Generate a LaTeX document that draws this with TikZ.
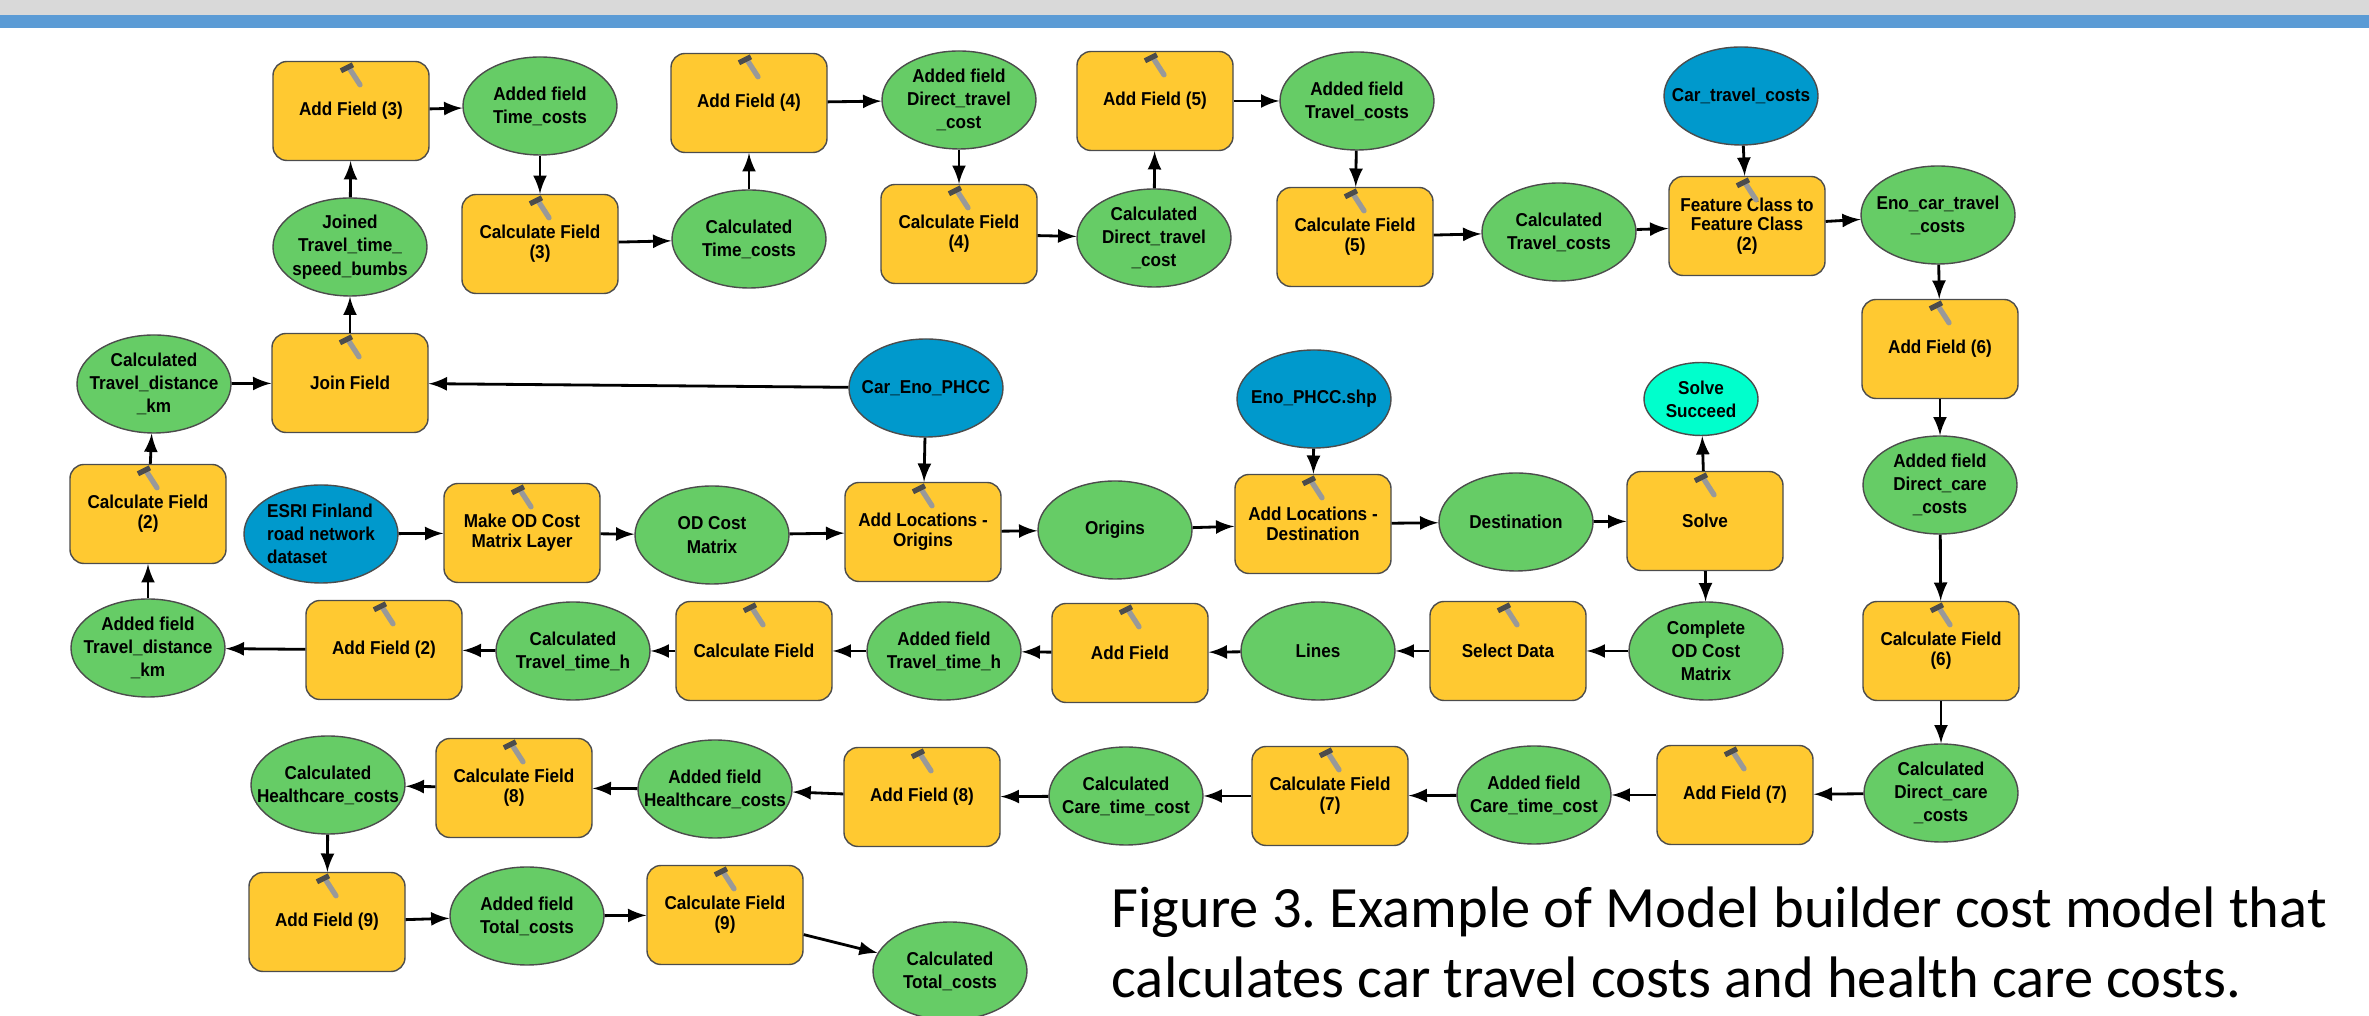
\documentclass[tikz,border=0pt]{standalone}
\usepackage{fontspec}
\usetikzlibrary{shapes.geometric}
\frenchspacing
\setmainfont[FakeStretch=.92]{Liberation Sans}
\newfontfamily\captionfont{Carlito}
\definecolor{toolyellow}{HTML}{FFC931}
\definecolor{datagreen}{HTML}{66CC66}
\definecolor{inputblue}{HTML}{0099CC}
\definecolor{flagcyan}{HTML}{00FFCC}
\definecolor{bandgray}{HTML}{D9D9D9}
\definecolor{bandblue}{HTML}{5B9BD5}
\begin{document}
\begin{tikzpicture}[>=latex]
\tikzset{
  tool/.style={draw=black!70,fill=toolyellow,shape=rectangle,rounded corners=.14cm,minimum width=1.56cm,minimum height=.99cm,
    inner sep=0pt,align=center,font=\fontsize{5.3}{5.6}\selectfont\bfseries,
    append after command={
      ([shift={(-.02,-.07)}]\tikzlastnode.north) edge[draw=black!40,line width=1.5pt,line cap=round] ([shift={(.09,-.24)}]\tikzlastnode.north)
      ([shift={(-.10,-.10)}]\tikzlastnode.north) edge[draw=black!70,line width=1.5pt] ([shift={(.02,-.04)}]\tikzlastnode.north)
    }},
  data/.style={draw=black!70,fill=datagreen,shape=ellipse,minimum width=1.54cm,minimum height=.98cm,
    inner xsep=-.25cm,inner ysep=-.02cm,align=center,font=\fontsize{5.3}{6.6}\selectfont\bfseries},
  input/.style={data,fill=inputblue},
  flag/.style={data,fill=flagcyan,minimum width=1.14cm,minimum height=.73cm},
  flow/.style={->,line width=.8pt}
}
\useasboundingbox (0,0) rectangle (23.69,10.16);
\fill[bandgray] (0,10.01) rectangle (23.69,10.16);
\fill[bandblue] (0,9.88) rectangle (23.69,10.01);
% upper rows
\node[tool] (addthree) at (3.51,9.05) {Add Field (3)};
\node[data] (timeadded) at (5.40,9.10) {Added field\\Time\_costs};
\node[tool] (calcthree) at (5.40,7.72) {Calculate Field\\(3)};
\node[data] (joined) at (3.50,7.69) {Joined\\Travel\_time\_\\speed\_bumbs};
\node[tool] (join) at (3.50,6.33) {Join Field};
\node[data] (distcalc) at (1.54,6.32) {Calculated\\Travel\_distance\\\_km};
\node[data] (timecalc) at (7.49,7.77) {Calculated\\Time\_costs};
\node[tool] (addfour) at (7.49,9.13) {Add Field (4)};
\node[data] (directadded) at (9.59,9.16) {Added field\\Direct\_travel\\\_cost};
\node[tool] (calcfour) at (9.59,7.82) {Calculate Field\\(4)};
\node[data] (directcalc) at (11.54,7.78) {Calculated\\Direct\_travel\\\_cost};
\node[tool] (addfive) at (11.55,9.15) {Add Field (5)};
\node[data] (traveladded) at (13.57,9.15) {Added field\\Travel\_costs};
\node[tool] (calcfive) at (13.55,7.79) {Calculate Field\\(5)};
\node[data] (travelcalc) at (15.59,7.84) {Calculated\\Travel\_costs};
\node[tool] (feature) at (17.47,7.90) {Feature Class to\\Feature Class\\(2)};
\node[input] (cartravel) at (17.41,9.20) {Car\_travel\_costs};
\node[data] (enocar) at (19.38,8.01) {Eno\_car\_travel\\\_costs};
% right column
\node[tool] (addsix) at (19.40,6.67) {Add Field (6)};
\node[data] (careadded) at (19.40,5.31) {Added field\\Direct\_care\\\_costs};
\node[tool] (calcsix) at (19.41,3.65) {Calculate Field\\(6)};
\node[data] (carecalc) at (19.41,2.23) {Calculated\\Direct\_care\\\_costs};
% od matrix rows
\node[tool] (calctwo) at (1.48,5.02) {Calculate Field\\(2)};
\node[input,align=left] (esri) at (3.21,4.82) {ESRI Finland\\road network\\dataset};
\node[tool] (makeod) at (5.22,4.83) {Make OD Cost\\Matrix Layer};
\node[data] (odmatrix) at (7.12,4.81) {OD Cost\\Matrix};
\node[input] (careno) at (9.26,6.28) {Car\_Eno\_PHCC};
\node[tool] (addorig) at (9.23,4.84) {Add Locations -\\Origins};
\node[data] (origins) at (11.15,4.86) {Origins};
\node[input] (enoshp) at (13.14,6.17) {Eno\_PHCC.shp};
\node[tool] (adddest) at (13.13,4.92) {Add Locations -\\Destination};
\node[data] (dest) at (15.16,4.94) {Destination};
\node[tool] (solve) at (17.05,4.95) {Solve};
\node[flag] (succeed) at (17.01,6.17) {Solve\\Succeed};
\node[data] (complete) at (17.06,3.65) {Complete\\OD Cost\\Matrix};
\node[tool] (select) at (15.08,3.65) {Select Data};
\node[data] (lines) at (13.18,3.65) {Lines};
\node[tool] (addfield) at (11.30,3.63) {Add Field};
\node[data] (houradded) at (9.44,3.65) {Added field\\Travel\_time\_h};
\node[tool] (calcfield) at (7.54,3.65) {Calculate Field};
\node[data] (hourcalc) at (5.73,3.65) {Calculated\\Travel\_time\_h};
\node[tool] (addtwo) at (3.84,3.66) {Add Field (2)};
\node[data] (distadded) at (1.48,3.68) {Added field\\Travel\_distance\\\_km};
% lower rows
\node[tool] (addseven) at (17.35,2.21) {Add Field (7)};
\node[data] (timeadd) at (15.34,2.21) {Added field\\Care\_time\_cost};
\node[tool] (calcseven) at (13.30,2.20) {Calculate Field\\(7)};
\node[data] (timecare) at (11.26,2.20) {Calculated\\Care\_time\_cost};
\node[tool] (addeight) at (9.22,2.19) {Add Field (8)};
\node[data] (healthadded) at (7.15,2.27) {Added field\\Healthcare\_costs};
\node[tool] (calceight) at (5.14,2.28) {Calculate Field\\(8)};
\node[data] (healthcalc) at (3.28,2.31) {Calculated\\Healthcare\_costs};
\node[tool] (addnine) at (3.27,.94) {Add Field (9)};
\node[data] (totaladded) at (5.27,1.00) {Added field\\Total\_costs};
\node[tool] (calcnine) at (7.25,1.01) {Calculate Field\\(9)};
\node[data] (totalcalc) at (9.50,.45) {Calculated\\Total\_costs};
\node[anchor=north west,inner sep=0pt,align=left,font=\captionfont\fontsize{16.65}{19.9}\selectfont] (figcaption) at (11.11,1.30)
  {Figure 3. Example of Model builder cost model that\\calculates car travel costs and health care costs.};
% connectors
\draw[flow] (distcalc) -- (join);
\draw[flow] (join) -- (joined);
\draw[flow] (joined) -- (addthree);
\draw[flow] (addthree) -- (timeadded);
\draw[flow] (timeadded) -- (calcthree);
\draw[flow] (calcthree) -- (timecalc);
\draw[flow] (timecalc) -- (addfour);
\draw[flow] (addfour) -- (directadded);
\draw[flow] (directadded) -- (calcfour);
\draw[flow] (calcfour) -- (directcalc);
\draw[flow] (directcalc) -- (addfive);
\draw[flow] (addfive) -- (traveladded);
\draw[flow] (traveladded) -- (calcfive);
\draw[flow] (calcfive) -- (travelcalc);
\draw[flow] (travelcalc) -- (feature);
\draw[flow] (cartravel) -- (feature);
\draw[flow] (feature) -- (enocar);
\draw[flow] (enocar) -- (addsix);
\draw[flow] (addsix) -- (careadded);
\draw[flow] (careadded) -- (calcsix);
\draw[flow] (calcsix) -- (carecalc);
\draw[flow] (carecalc) -- (addseven);
\draw[flow] (addseven) -- (timeadd);
\draw[flow] (timeadd) -- (calcseven);
\draw[flow] (calcseven) -- (timecare);
\draw[flow] (timecare) -- (addeight);
\draw[flow] (addeight) -- (healthadded);
\draw[flow] (healthadded) -- (calceight);
\draw[flow] (calceight) -- (healthcalc);
\draw[flow] (healthcalc) -- (addnine);
\draw[flow] (addnine) -- (totaladded);
\draw[flow] (totaladded) -- (calcnine);
\draw[flow] (calcnine) -- (totalcalc);
\draw[flow] (esri) -- (makeod);
\draw[flow] (makeod) -- (odmatrix);
\draw[flow] (odmatrix) -- (addorig);
\draw[flow] (careno) -- (addorig);
\draw[flow] (careno) -- (join);
\draw[flow] (addorig) -- (origins);
\draw[flow] (origins) -- (adddest);
\draw[flow] (enoshp) -- (adddest);
\draw[flow] (adddest) -- (dest);
\draw[flow] (dest) -- (solve);
\draw[flow] (solve) -- (succeed);
\draw[flow] (solve) -- (complete);
\draw[flow] (complete) -- (select);
\draw[flow] (select) -- (lines);
\draw[flow] (lines) -- (addfield);
\draw[flow] (addfield) -- (houradded);
\draw[flow] (houradded) -- (calcfield);
\draw[flow] (calcfield) -- (hourcalc);
\draw[flow] (hourcalc) -- (addtwo);
\draw[flow] (addtwo) -- (distadded);
\draw[flow] (distadded) -- (calctwo);
\draw[flow] (calctwo) -- (distcalc);
\end{tikzpicture}
\end{document}
